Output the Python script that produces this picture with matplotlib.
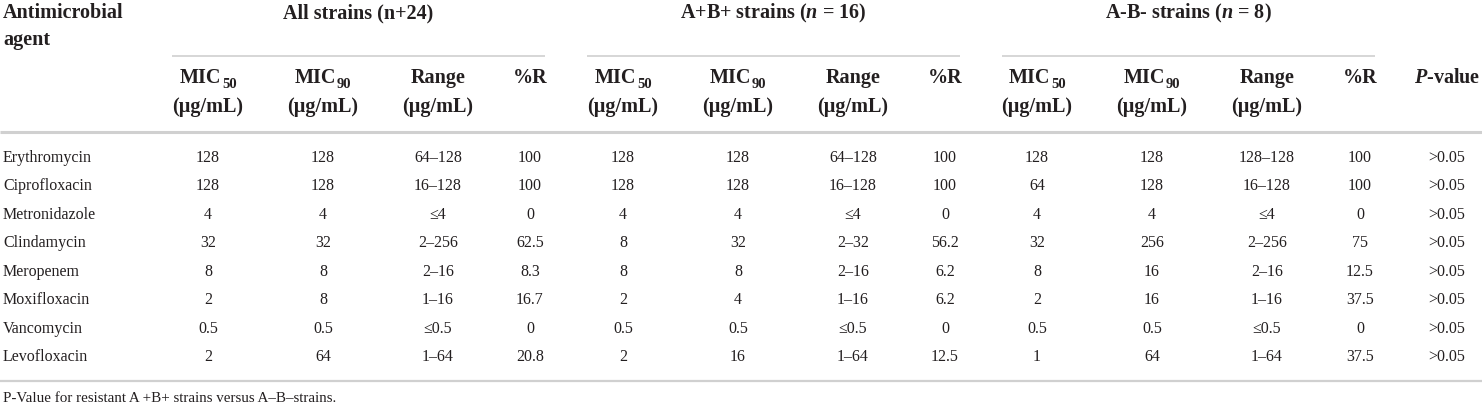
import matplotlib
matplotlib.use("Agg")
import matplotlib.pyplot as plt

plt.rcParams['font.family'] = ['Liberation Serif', 'DejaVu Serif']
plt.rcParams['mathtext.fontset'] = 'custom'
plt.rcParams['mathtext.rm'] = 'Liberation Serif:bold'
plt.rcParams['mathtext.it'] = 'Liberation Serif:italic:bold'
plt.rcParams['mathtext.bf'] = 'Liberation Serif:bold'

# ---- data ----
agents = ["Erythromycin", "Ciprofloxacin", "Metronidazole", "Clindamycin",
          "Meropenem", "Moxifloxacin", "Vancomycin", "Levofloxacin"]

all_mic50 = ["128", "128", "4", "32", "8", "2", "0.5", "2"]
all_mic90 = ["128", "128", "4", "32", "8", "8", "0.5", "64"]
all_range = ["64–128", "16–128", "≤4", "2–256", "2–16", "1–16", "≤0.5", "1–64"]
all_r = ["100", "100", "0", "62.5", "8.3", "16.7", "0", "20.8"]

ab_mic50 = ["128", "128", "4", "8", "8", "2", "0.5", "2"]
ab_mic90 = ["128", "128", "4", "32", "8", "4", "0.5", "16"]
ab_range = ["64–128", "16–128", "≤4", "2–32", "2–16", "1–16", "≤0.5", "1–64"]
ab_r = ["100", "100", "0", "56.2", "6.2", "6.2", "0", "12.5"]

neg_mic50 = ["128", "64", "4", "32", "8", "2", "0.5", "1"]
neg_mic90 = ["128", "128", "4", "256", "16", "16", "0.5", "64"]
neg_range = ["128–128", "16–128", "≤4", "2–256", "2–16", "1–16", "≤0.5", "1–64"]
neg_r = ["100", "100", "0", "75", "12.5", "37.5", "0", "37.5"]

p_values = [">0.05"] * 8

group_titles = ["All strains (n+24)", "A+B+ strains ($n$ = 16)", "A-B- strains ($n$ = 8)"]
sub_main = ["MIC", "MIC", "Range", "%R"]
sub_index = ["50", "90", "", ""]
sub_unit = ["(µg/mL)", "(µg/mL)", "(µg/mL)", ""]
footnote = "P-Value for resistant A +B+ strains versus A–B–strains."

# ---- layout ----
W, H = 1482, 410
fig = plt.figure(figsize=(W / 100, H / 100), dpi=100)
ax = fig.add_axes([0, 0, 1, 1])
ax.set_xlim(0, W)
ax.set_ylim(H, 0)
ax.axis('off')

txt = '#231f20'
line_c = '#d0d0d0'
hdr_fs = 14.5
sub_fs = 10.5
data_fs = 11.5

group_cols = [[208, 323, 438, 530], [623, 738, 853, 945], [1037, 1152, 1267, 1360]]
group_lines = [(172, 545), (587, 960), (1002, 1375)]
p_x = 1447

fig.canvas.draw()
renderer = fig.canvas.get_renderer()

def width_px(s, fs, weight):
    t = ax.text(0, 0, s, fontsize=fs, fontweight=weight)
    w = t.get_window_extent(renderer).width
    t.remove()
    return w

# header
ax.text(3, 13, "Antimicrobial", fontsize=hdr_fs, fontweight='bold', color=txt,
        ha='left', va='center')
ax.text(3, 40, "agent", fontsize=hdr_fs, fontweight='bold', color=txt,
        ha='left', va='center')

for (x0, x1), title, cols in zip(group_lines, group_titles, group_cols):
    ax.text((x0 + x1) / 2, 13, title, fontsize=hdr_fs, fontweight='bold', color=txt,
            ha='center', va='center')
    ax.plot([x0, x1], [57, 57], color=line_c, lw=1.2, solid_capstyle='butt')
    for cx, m, idx, unit in zip(cols, sub_main, sub_index, sub_unit):
        if idx:
            wm = width_px(m, hdr_fs, 'bold')
            wi = width_px(idx, sub_fs, 'bold')
            left = cx - (wm + wi) / 2
            ax.text(left, 78, m, fontsize=hdr_fs, fontweight='bold', color=txt,
                    ha='left', va='center')
            ax.text(left + wm + 0.5, 84, idx, fontsize=sub_fs, fontweight='bold',
                    color=txt, ha='left', va='center')
        else:
            ax.text(cx, 78, m, fontsize=hdr_fs, fontweight='bold', color=txt,
                    ha='center', va='center')
        if unit:
            ax.text(cx, 107, unit, fontsize=hdr_fs, fontweight='bold', color=txt,
                    ha='center', va='center')

ax.text(p_x, 78, "$P$-value", fontsize=hdr_fs, fontweight='bold', color=txt,
        ha='center', va='center')

ax.plot([0, W], [133, 133], color=line_c, lw=2.2, solid_capstyle='butt')

# body
columns = [all_mic50, all_mic90, all_range, all_r,
           ab_mic50, ab_mic90, ab_range, ab_r,
           neg_mic50, neg_mic90, neg_range, neg_r]
col_x = [x for cols in group_cols for x in cols]

row_y0, row_dy = 158, 28.5
for i, agent in enumerate(agents):
    y = row_y0 + i * row_dy
    ax.text(3, y, agent, fontsize=data_fs, color=txt, ha='left', va='center')
    for cx, col in zip(col_x, columns):
        ax.text(cx, y, col[i], fontsize=data_fs, color=txt, ha='center', va='center')
    ax.text(p_x, y, p_values[i], fontsize=data_fs, color=txt, ha='center', va='center')

ax.plot([0, W], [382, 382], color=line_c, lw=1.6, solid_capstyle='butt')
ax.text(3, 399, footnote, fontsize=10.8, color=txt, ha='left', va='center')

fig.savefig("out.png", dpi=100)
